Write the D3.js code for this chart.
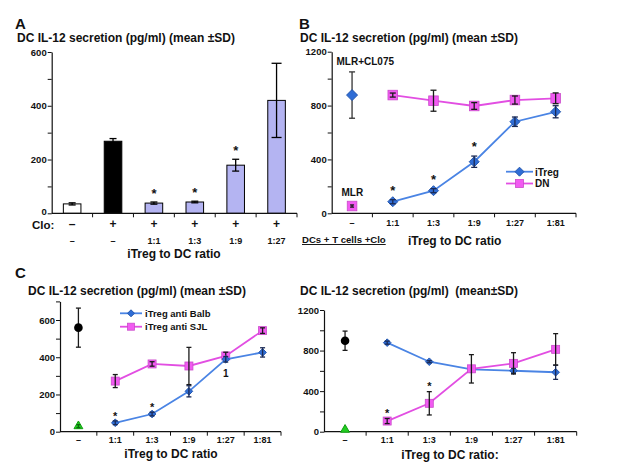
<!DOCTYPE html>
<html><head><meta charset="utf-8">
<script src="https://cdn.jsdelivr.net/npm/d3@7"></script>
<style>
body{margin:0;background:#fff;}
text{font-family:"Liberation Sans",Arial,sans-serif;font-weight:bold;fill:#111;}
</style>
</head><body><script>
// ---------- Panel A data ----------
const aCloLabels = ["–","+","+","+","+","+"];
const aRatioLabels = ["–","–","1:1","1:3","1:9","1:27"];
const aValues = [35, 268, 38, 42, 179, 420];
const aErrors = [4, 10, 4, 3, 22, 138];
const aStars = [0, 0, 1, 1, 1, 0];
const aTickLabels = [0, 200, 400, 600];

// ---------- Panel B data ----------
const bCategories = ["–","1:1","1:3","1:9","1:27","1:81"];
const bITreg = [null, 86, 168, 383, 680, 754];
const bITregErr = [null, 15, 15, 42, 35, 45];
const bDN = [null, 878, 836, 797, 841, 854];
const bDNErr = [null, 15, 78, 25, 30, 40];
const bCL075 = [878, 172];   // value, SD at "–"
const bMLR = [54, 8];        // value, SD at "–"
const bStars = [0, 1, 1, 1, 0, 0];
const bTickLabels = [0, 400, 800, 1200];

// ---------- Panel C data ----------
const cCategories = ["–","1:1","1:3","1:9","1:27","1:81"];
const cBalb = [null, 48, 95, 217, 389, 426];
const cBalbErr = [null, 10, 10, 30, 15, 25];
const cSJL = [null, 272, 364, 353, 407, 543];
const cSJLErr = [null, 35, 12, 100, 20, 15];
const cControl = [559, 105];
const cBaseline = [30, 8];
const cStars = [0, 1, 1, 0, 0, 0];
const cTickLabels = [0, 200, 400, 600];

// ---------- Panel D data ----------
const dCategories = ["–","1:1","1:3","1:9","1:27","1:81"];
const dBalb = [null, 878, 690, 615, 601, 586];
const dBalbErr = [null, 15, 10, 10, 25, 70];
const dSJL = [null, 105, 280, 620, 674, 812];
const dSJLErr = [null, 25, 115, 140, 105, 155];
const dControl = [897, 95];
const dBaseline = [20, 5];
const dStars = [0, 1, 1, 0, 0, 0];
const dTickLabels = [0, 400, 800, 1200];

const BLUE_LINE = "#4a84e4", BLUE_MARK = "#2f6dd6";
const PINK_LINE = "#e24ee2", PINK_MARK = "#f25af2";
const ERR = "#1a1a1a";

const svg = d3.select("body").append("svg").attr("width", 630).attr("height", 465);

function yAxis(g, y, x0, labels, minorStep) {
  const max = y.domain()[1];
  const ticks = d3.range(0, max + 1, minorStep);
  const ax = d3.axisLeft(y).tickValues(ticks).tickSize(4).tickSizeOuter(0)
    .tickFormat(d => labels.includes(d) ? d : "");
  const gg = g.append("g").attr("transform", `translate(${x0},0)`).call(ax);
  gg.select(".domain").attr("stroke", "#111").attr("stroke-width", 1.2);
  gg.selectAll(".tick line").attr("stroke", "#111");
  gg.selectAll(".tick text").style("font-size", "9.5px").attr("x", -5).attr("fill", "#111");
  return gg;
}
function xAxis(g, x, y0) {
  const r = x.range();
  g.append("line").attr("x1", r[0]).attr("x2", r[1]).attr("y1", y0).attr("y2", y0)
    .attr("stroke", "#111").attr("stroke-width", 1.2);
  x.domain().forEach(d => {
    const xb = x(d) + x.bandwidth();
    g.append("line").attr("x1", xb).attr("x2", xb).attr("y1", y0).attr("y2", y0 + 4).attr("stroke", "#111");
  });
}
function errBar(g, cx, y, v, e, cap, color) {
  const t = y(v + e), b = y(Math.max(0, v - e));
  g.append("line").attr("x1", cx).attr("x2", cx).attr("y1", t).attr("y2", b).attr("stroke", color).attr("stroke-width", 1.3);
  [t, b].forEach(yy => g.append("line").attr("x1", cx - cap / 2).attr("x2", cx + cap / 2)
    .attr("y1", yy).attr("y2", yy).attr("stroke", color).attr("stroke-width", 1.3));
}
function diamond(g, cx, cy, r, fill) {
  g.append("path").attr("d", `M${cx},${cy - r}L${cx + r},${cy}L${cx},${cy + r}L${cx - r},${cy}Z`)
    .attr("fill", fill).attr("stroke", d3.color(fill).darker(0.6));
}
function square(g, cx, cy, r, fill) {
  g.append("rect").attr("x", cx - r).attr("y", cy - r).attr("width", 2 * r).attr("height", 2 * r)
    .attr("fill", fill).attr("stroke", d3.color(fill).darker(0.5)).attr("stroke-width", 0.8);
}
function text(g, x, y, s, size, anchor) {
  return g.append("text").attr("x", x).attr("y", y).attr("text-anchor", anchor || "start")
    .style("font-size", size + "px").text(s);
}
function series(g, x, y, cats, vals, errs, color, markFn, r, markColor, errColor, cap) {
  const pts = cats.map((c, i) => ({c, v: vals[i], e: errs[i]})).filter(p => p.v != null);
  const cx = c => x(c) + x.bandwidth() / 2;
  g.append("path").datum(pts).attr("fill", "none").attr("stroke", color).attr("stroke-width", 1.8)
    .attr("d", d3.line().x(p => cx(p.c)).y(p => y(p.v)));
  pts.forEach(p => markFn(g, cx(p.c), y(p.v), r, markColor));
  pts.forEach(p => errBar(g, cx(p.c), y, p.v, p.e, cap, errColor));
}

// ================= Panel A =================
{
  const g = svg.append("g");
  const idx = d3.range(aValues.length);
  const x = d3.scaleBand().domain(idx).range([51.7, 297]);
  const y = d3.scaleLinear().domain([0, 600]).range([213.3, 52]);
  const fills = ["#ffffff", "#000000", "#b4b4f2", "#b4b4f2", "#b4b4f2", "#b4b4f2"];
  const bw = x.bandwidth() * 0.43;
  idx.forEach(i => {
    const cx = x(i) + x.bandwidth() / 2;
    g.append("rect").attr("x", cx - bw / 2).attr("y", y(aValues[i])).attr("width", bw)
      .attr("height", y(0) - y(aValues[i])).attr("fill", fills[i]).attr("stroke", "#000").attr("stroke-width", 1);
    errBar(g, cx, y, aValues[i], aErrors[i], i === 5 ? 10 : 7, "#000");
    if (aStars[i]) text(g, cx, y(aValues[i] + aErrors[i]) - 4, "*", 13, "middle");
    text(g, cx, 228, aCloLabels[i], 12, "middle");
    text(g, cx, 244, aRatioLabels[i], 9, "middle");
  });
  const ya = yAxis(g, y, 51.7, aTickLabels, 100);
  ya.selectAll(".tick text").filter(d => d === 0).attr("dy", "0.1em");
  xAxis(g, x, 213.3);
  text(g, 32, 228.5, "Clo:", 11.5);
  text(g, 15, 29, "A", 15);
  text(g, 17, 42, "DC IL-12 secretion (pg/ml) (mean ±SD)", 12);
  text(g, 174, 258, "iTreg to DC ratio", 12, "middle");
}

// ================= Panel B =================
{
  const g = svg.append("g");
  const x = d3.scaleBand().domain(bCategories).range([331.7, 576]);
  const y = d3.scaleLinear().domain([0, 1200]).range([213.3, 51.7]);
  yAxis(g, y, 331.7, bTickLabels, 200);
  xAxis(g, x, 213.3);
  const cx0 = x("–") + x.bandwidth() / 2;
  errBar(g, cx0, y, bCL075[0], bCL075[1], 6, "#333");
  diamond(g, cx0, y(bCL075[0]), 5.5, BLUE_MARK);
  square(g, cx0, y(bMLR[0]), 4.8, PINK_MARK);
  errBar(g, cx0, y, bMLR[0], bMLR[1], 4, ERR);
  series(g, x, y, bCategories, bDN, bDNErr, PINK_LINE, square, 4.8, PINK_MARK, ERR, 6);
  series(g, x, y, bCategories, bITreg, bITregErr, BLUE_LINE, diamond, 5, BLUE_MARK, "#1b2a55", 6);
  bCategories.forEach((c, i) => {
    const cx = x(c) + x.bandwidth() / 2;
    if (bStars[i]) text(g, cx, y(bITreg[i] + bITregErr[i]) - 5, "*", 13, "middle");
    text(g, cx, 226, c, 9, "middle");
  });
  text(g, 336.5, 65, "MLR+CL075", 10);
  text(g, 341.5, 196, "MLR", 10);
  // legend
  g.append("line").attr("x1", 506).attr("x2", 533).attr("y1", 171.7).attr("y2", 171.7).attr("stroke", BLUE_LINE).attr("stroke-width", 1.8);
  diamond(g, 519.5, 171.7, 4.5, BLUE_MARK);
  text(g, 535, 175.5, "iTreg", 10);
  g.append("line").attr("x1", 506).attr("x2", 533).attr("y1", 183.5).attr("y2", 183.5).attr("stroke", PINK_LINE).attr("stroke-width", 1.8);
  square(g, 519.5, 183.5, 4, PINK_MARK);
  text(g, 535, 187.3, "DN", 10);
  text(g, 299, 29, "B", 15);
  text(g, 300, 42, "DC IL-12 secretion (pg/ml) (mean ±SD)", 12);
  const u = text(g, 302, 243, "DCs + T cells +Clo", 9.6);
  u.style("text-decoration", "underline");
  text(g, 408, 245, "iTreg to DC ratio", 12);
}

// ================= Panel C =================
{
  const g = svg.append("g");
  const x = d3.scaleBand().domain(cCategories).range([60, 281]);
  const y = d3.scaleLinear().domain([0, 700]).range([431.7, 301.4]);
  yAxis(g, y, 60, cTickLabels, 100);
  xAxis(g, x, 431.7);
  const cx0 = x("–") + x.bandwidth() / 2;
  errBar(g, cx0, y, cControl[0], cControl[1], 5, ERR);
  g.append("circle").attr("cx", cx0).attr("cy", y(cControl[0])).attr("r", 4.3).attr("fill", "#000");
  g.append("path").attr("d", d3.symbol(d3.symbolTriangle, 34)())
    .attr("transform", `translate(${cx0},${y(cBaseline[0])})`).attr("fill", "#22cc22").attr("stroke", "#11a011");
  errBar(g, cx0, y, cBaseline[0], cBaseline[1], 4, "#0a6a0a");
  series(g, x, y, cCategories, cSJL, cSJLErr, PINK_LINE, square, 4, PINK_MARK, ERR, 5);
  series(g, x, y, cCategories, cBalb, cBalbErr, BLUE_LINE, diamond, 3.8, BLUE_MARK, "#1b2a55", 5);
  cCategories.forEach((c, i) => {
    const cx = x(c) + x.bandwidth() / 2;
    if (cStars[i]) text(g, cx, y(cBalb[i] + cBalbErr[i]) - 1, "*", 11, "middle");
    text(g, cx, 443, c, 9, "middle");
  });
  text(g, x("1:27") + x.bandwidth() / 2, 377, "1", 10, "middle");
  // legend
  g.append("line").attr("x1", 120).attr("x2", 142).attr("y1", 313.3).attr("y2", 313.3).attr("stroke", BLUE_LINE).attr("stroke-width", 1.8);
  diamond(g, 131, 313.3, 3.5, BLUE_MARK);
  text(g, 145, 316.8, "iTreg anti Balb", 9.5);
  g.append("line").attr("x1", 120).attr("x2", 142).attr("y1", 326.7).attr("y2", 326.7).attr("stroke", PINK_LINE).attr("stroke-width", 1.8);
  square(g, 131, 326.7, 3.5, PINK_MARK);
  text(g, 145, 330.2, "iTreg anti SJL", 9.5);
  text(g, 15, 278, "C", 15);
  text(g, 28, 295, "DC IL-12 secretion (pg/ml) (mean ±SD)", 12);
  text(g, 171, 458, "iTreg to DC ratio", 12, "middle");
}

// ================= Panel D =================
{
  const g = svg.append("g");
  const x = d3.scaleBand().domain(dCategories).range([324, 576.7]);
  const y = d3.scaleLinear().domain([0, 1200]).range([431.7, 310]);
  yAxis(g, y, 324, dTickLabels, 200);
  xAxis(g, x, 431.7);
  const cx0 = x("–") + x.bandwidth() / 2;
  errBar(g, cx0, y, dControl[0], dControl[1], 5, ERR);
  g.append("circle").attr("cx", cx0).attr("cy", y(dControl[0])).attr("r", 4.3).attr("fill", "#000");
  g.append("path").attr("d", d3.symbol(d3.symbolTriangle, 34)())
    .attr("transform", `translate(${cx0},${y(dBaseline[0])})`).attr("fill", "#22cc22").attr("stroke", "#11a011");
  series(g, x, y, dCategories, dBalb, dBalbErr, BLUE_LINE, diamond, 3.8, BLUE_MARK, "#1b2a55", 5);
  series(g, x, y, dCategories, dSJL, dSJLErr, PINK_LINE, square, 4, PINK_MARK, ERR, 5);
  dCategories.forEach((c, i) => {
    const cx = x(c) + x.bandwidth() / 2;
    if (dStars[i]) text(g, cx, y(dSJL[i] + dSJLErr[i]) - 2, "*", 11, "middle");
    text(g, cx, 443, c, 9, "middle");
  });
  text(g, 300, 295, "DC IL-12 secretion (pg/ml)  (mean±SD)", 12).attr("xml:space", "preserve").style("white-space", "pre");
  text(g, 450, 459, "iTreg to DC ratio:", 12, "middle");
}
</script></body></html>
